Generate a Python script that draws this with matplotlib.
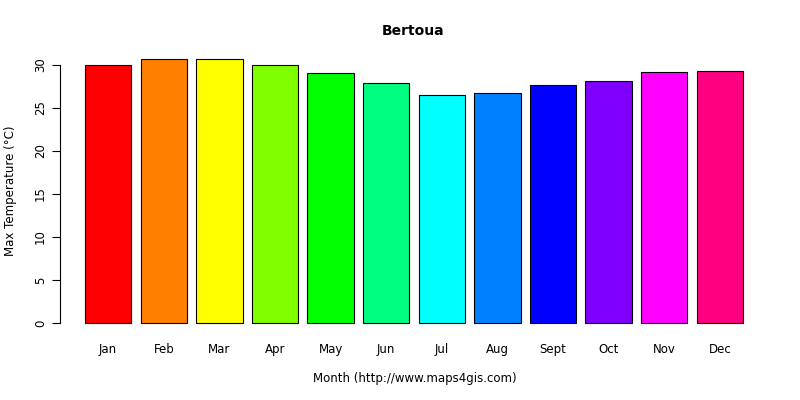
import matplotlib
matplotlib.use("Agg")
from matplotlib import pyplot as plt

months = ["Jan", "Feb", "Mar", "Apr", "May", "Jun", "Jul", "Aug", "Sept", "Oct", "Nov", "Dec"]
max_temp = [30.0, 30.7, 30.7, 30.0, 29.1, 27.9, 26.5, 26.7, 27.7, 28.1, 29.2, 29.3]
colors = ["#FF0000", "#FF8000", "#FFFF00", "#80FF00", "#00FF00", "#00FF80",
          "#00FFFF", "#0080FF", "#0000FF", "#8000FF", "#FF00FF", "#FF0080"]

W, H = 800, 400
fig = plt.figure(figsize=(8, 4), dpi=100)
# axes box in pixels: left 60, right 770, top 49, bottom 333
ax = fig.add_axes([60 / W, (H - 333) / H, 710 / W, 284 / H])

xs = [0.7 + 1.2 * i for i in range(len(months))]
ax.bar(xs, max_temp, width=1.0, color=colors, edgecolor="black", linewidth=0.8)

ppu_x = 658 / 14.2
ax.set_xlim(0.2 - 25 / ppu_x, 14.4 + 27 / ppu_x)
ppu_y = 258 / 30
ax.set_ylim(-10 / ppu_y, 30 + 16 / ppu_y)

for s in ["top", "right", "bottom"]:
    ax.spines[s].set_visible(False)
ax.spines["left"].set_bounds(0, 30)
ax.set_yticks([0, 5, 10, 15, 20, 25, 30])
ax.set_yticklabels(["0", "5", "10", "15", "20", "25", "30"], rotation=90, va="center", fontsize=8.5)
ax.set_xticks(xs)
ax.set_xticklabels(months, fontsize=8.5)
ax.tick_params(axis="x", length=0, pad=7)
ax.tick_params(axis="y", length=6)

ax.set_xlabel("Month (http://www.maps4gis.com)", fontsize=8.5, labelpad=12)
ax.set_ylabel("Max Temperature (°C)", fontsize=8.5, labelpad=12)
fig.text(413 / W, 1 - 31 / H, "Bertoua", ha="center", va="center", fontsize=10, fontweight="bold")

fig.savefig("out.png", dpi=100)
